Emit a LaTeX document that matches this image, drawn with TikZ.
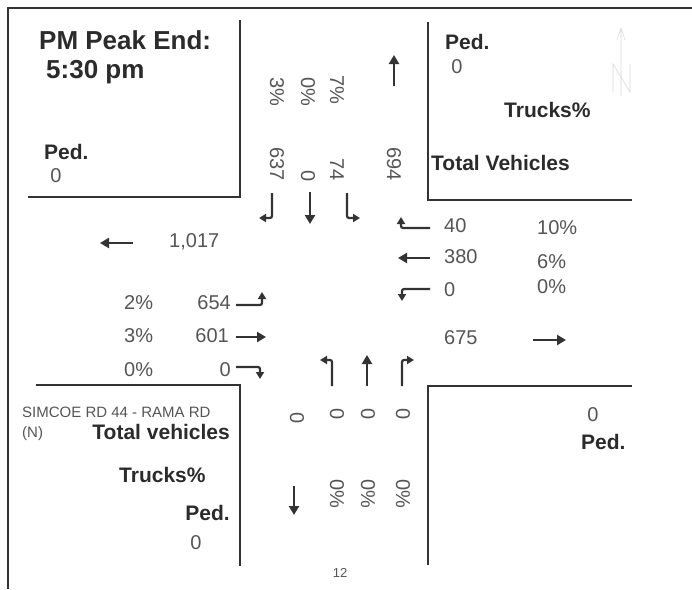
\documentclass[tikz,border=0pt]{standalone}
\usepackage{fontspec}
\setmainfont{Liberation Sans}
\usetikzlibrary{arrows.meta}
\definecolor{linec}{HTML}{333333}
\definecolor{txtd}{HTML}{2B2B2B}
\definecolor{txtn}{HTML}{555555}
\begin{document}
\begin{tikzpicture}[x=1pt,y=-1pt,
  lbl/.style={inner sep=0pt, text=txtd, font=\bfseries\fontsize{21}{24}\selectfont},
  big/.style={inner sep=0pt, text=txtd, font=\bfseries\fontsize{26}{30}\selectfont},
  num/.style={inner sep=0pt, text=txtn, font=\fontsize{20}{24}\selectfont},
  small/.style={inner sep=0pt, text=txtn, font=\fontsize{15}{18}\selectfont},
  rnum/.style={num, rotate=-90},
  road/.style={draw=linec, line width=1.6pt},
  arr/.style={draw=linec, line width=2.4pt, -{Triangle[length=9pt,width=10pt]}},
  turn/.style={draw=linec, line width=2.2pt, -{Triangle[length=7pt,width=8pt]}, rounded corners=2pt}]
\fill[white] (0,0) rectangle (692,589);
\path[use as bounding box] (0,0) rectangle (692,589);
% outer frame
\draw[road] (8,589) -- (8,8) -- (692,8);
% corner boxes
\draw[road] (240,20) -- (240,197) -- (28,197);
\draw[road] (428,22) -- (428,200) -- (632,200);
\draw[road] (36,385) -- (240,385) -- (240,566);
\draw[road] (632,386) -- (428,386) -- (428,565);
% faint north mark
\draw[gray!30, line width=0.6pt] (621,96) -- (621,28) (617,40) -- (621,28) -- (625,40);
\draw[gray!30, line width=0.6pt] (613,92) -- (613,64) -- (630,92) -- (630,64);
% NW box
\node[big, anchor=west] (title) at (39,40) {PM Peak End:};
\node[big, anchor=west] (time) at (46,72) {5:30 pm};
\node[lbl, anchor=west] (nwped) at (44,152) {Ped.};
\node[num] (nwpedv) at (56,176) {0};
% NE box
\node[lbl, anchor=west] (neped) at (445,42) {Ped.};
\node[num] (nepedv) at (457,67) {0};
\node[lbl, anchor=west] (netr) at (504,110) {Trucks\%};
\node[lbl, anchor=west] (netot) at (431,163) {Total Vehicles};
% SW box
\node[small, anchor=west] (road) at (22,412) {SIMCOE RD 44 - RAMA RD};
\node[small, anchor=west] (north) at (22,434) {(N)};
\node[lbl, anchor=east] (swtot) at (230,432) {Total vehicles};
\node[lbl, anchor=west] (swtr) at (119,475) {Trucks\%};
\node[lbl, anchor=east] (swped) at (230,513) {Ped.};
\node[num] (swpedv) at (196,543) {0};
% SE box
\node[num] (sepedv) at (593,415) {0};
\node[lbl, anchor=west] (seped) at (581,442) {Ped.};
% north approach
\node[rnum, anchor=west] (sbrp) at (277,77) {3\%};
\node[rnum, anchor=west] (sbtp) at (308,77) {0\%};
\node[rnum, anchor=west] (sblp) at (337,75) {7\%};
\node[rnum, anchor=east] (sbr) at (277,181) {637};
\node[rnum, anchor=east] (sbt) at (308,182) {0};
\node[rnum, anchor=east] (sbl) at (337,181) {74};
\node[rnum, anchor=east] (nbout) at (394,181) {694};
\draw[arr] (394,86) -- (394,55);
\draw[turn] (272,193) -- (272,218) -- (259,218);
\draw[arr] (310,192) -- (310,224);
\draw[turn] (347,193) -- (347,218) -- (360,218);
% east approach
\draw[turn] (430,228) -- (401,228) -- (401,217);
\node[num, anchor=west] (wbr) at (444,226) {40};
\node[num, anchor=west] (wbrp) at (537,228) {10\%};
\draw[arr] (430,258) -- (398,258);
\node[num, anchor=west] (wbt) at (444,257) {380};
\node[num, anchor=west] (wbtp) at (537,262) {6\%};
\draw[turn] (430,289) -- (402,289) -- (402,301);
\node[num, anchor=west] (wbl) at (444,290) {0};
\node[num, anchor=west] (wblp) at (537,287) {0\%};
\node[num, anchor=west] (ebout) at (444,338) {675};
\draw[arr] (533,340) -- (566,340);
% west approach
\draw[arr] (133,243) -- (100,243);
\node[num, anchor=west] (wbout) at (169,242) {1,017};
\node[num, anchor=west] (eblp) at (124,303) {2\%};
\node[num, anchor=east] (ebl) at (231,303) {654};
\draw[turn] (236,305) -- (262,305) -- (262,292);
\node[num, anchor=west] (ebtp) at (124,336) {3\%};
\node[num, anchor=east] (ebt) at (229,336) {601};
\draw[arr] (236,337) -- (266,337);
\node[num, anchor=west] (ebrp) at (124,370) {0\%};
\node[num, anchor=east] (ebr) at (231,370) {0};
\draw[turn] (236,367) -- (260,367) -- (260,379);
% south approach
\draw[turn] (332,386) -- (332,360) -- (320,360);
\draw[arr] (367,386) -- (367,355);
\draw[turn] (402,386) -- (402,360) -- (414,360);
\node[rnum] (sbout) at (297,418) {0};
\node[rnum] (nbl) at (337,414) {0};
\node[rnum] (nbt) at (368,414) {0};
\node[rnum] (nbr) at (403,414) {0};
\node[rnum, anchor=west] (nblp) at (337,479) {0\%};
\node[rnum, anchor=west] (nbtp) at (368,479) {0\%};
\node[rnum, anchor=west] (nbrp) at (403,479) {0\%};
\draw[arr] (294,486) -- (294,515);
\node[num, font=\fontsize{13}{15}\selectfont] (page) at (340,573) {12};
\end{tikzpicture}
\end{document}
